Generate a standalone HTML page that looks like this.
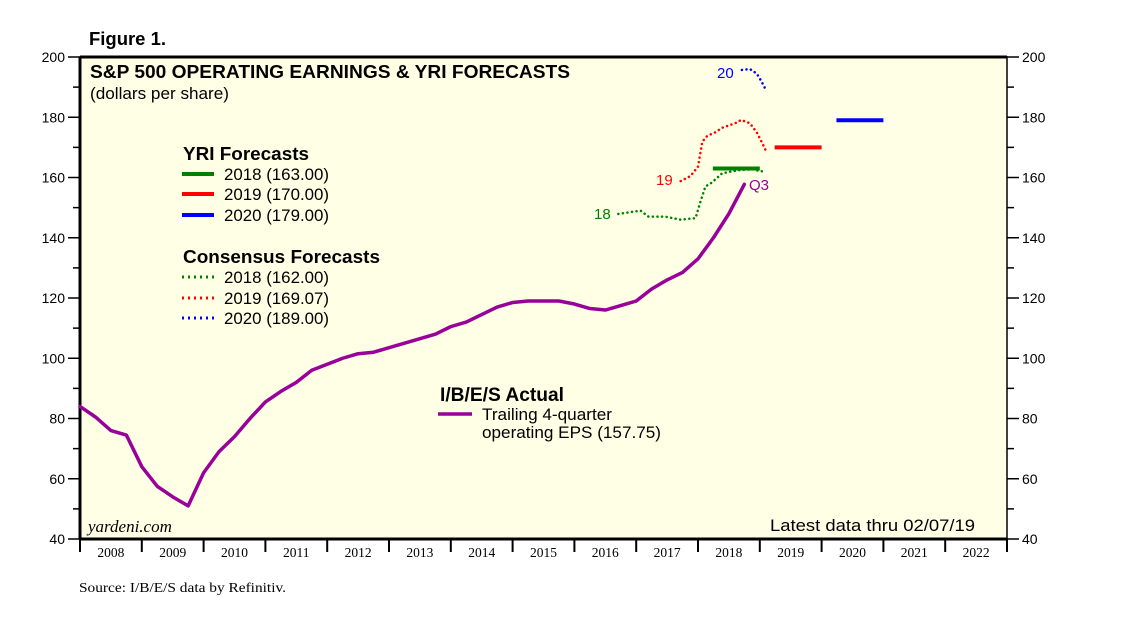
<!DOCTYPE html>
<html><head><meta charset="utf-8"><style>
body{margin:0;background:#fff;}
svg{display:block;font-family:"Liberation Sans",Arial,sans-serif;}
</style></head><body>
<svg id="chart" width="1138" height="621" viewBox="0 0 1138 621" xmlns="http://www.w3.org/2000/svg">
<rect width="1138" height="621" fill="#fff"/>
<text x="89" y="45" font-size="18" font-weight="bold" textLength="77" lengthAdjust="spacingAndGlyphs">Figure 1.</text>
<rect x="80" y="57" width="927" height="482" fill="#ffffe6" stroke="#000" stroke-width="1.5"/>
<line x1="80" y1="57" x2="1007" y2="57" stroke="#000" stroke-width="3"/>
<line x1="80" y1="57" x2="80" y2="539" stroke="#000" stroke-width="3"/>
<line x1="80" y1="539" x2="1007" y2="539" stroke="#000" stroke-width="3"/>
<text x="90" y="78" font-size="18.5" font-weight="bold" textLength="480" lengthAdjust="spacingAndGlyphs">S&amp;P 500 OPERATING EARNINGS &amp; YRI FORECASTS</text>
<text x="90" y="99" font-size="16.5" textLength="139" lengthAdjust="spacingAndGlyphs">(dollars per share)</text>
<g id="axes"></g>
<g id="marks"></g>
<g font-size="16.5">
<text x="183" y="160" font-size="18.5" font-weight="bold" textLength="126" lengthAdjust="spacingAndGlyphs">YRI Forecasts</text>
<line x1="182" y1="174" x2="214" y2="174" stroke="#008000" stroke-width="4"/><text x="224" y="180" textLength="105" lengthAdjust="spacingAndGlyphs">2018 (163.00)</text>
<line x1="182" y1="194" x2="214" y2="194" stroke="#ff0000" stroke-width="4"/><text x="224" y="200" textLength="105" lengthAdjust="spacingAndGlyphs">2019 (170.00)</text>
<line x1="182" y1="215" x2="214" y2="215" stroke="#0000ff" stroke-width="4"/><text x="224" y="221" textLength="105" lengthAdjust="spacingAndGlyphs">2020 (179.00)</text>
<text x="183" y="263" font-size="18.5" font-weight="bold" textLength="197" lengthAdjust="spacingAndGlyphs">Consensus Forecasts</text>
<line x1="182" y1="277" x2="214" y2="277" stroke="#008000" stroke-width="3" stroke-dasharray="2 4"/><text x="224" y="283" textLength="105" lengthAdjust="spacingAndGlyphs">2018 (162.00)</text>
<line x1="182" y1="298" x2="214" y2="298" stroke="#ff0000" stroke-width="3" stroke-dasharray="2 4"/><text x="224" y="304" textLength="105" lengthAdjust="spacingAndGlyphs">2019 (169.07)</text>
<line x1="182" y1="318" x2="214" y2="318" stroke="#0000ff" stroke-width="3" stroke-dasharray="2 4"/><text x="224" y="324" textLength="105" lengthAdjust="spacingAndGlyphs">2020 (189.00)</text>
<text x="440" y="401" font-size="19" font-weight="bold" textLength="124" lengthAdjust="spacingAndGlyphs">I/B/E/S Actual</text>
<line x1="438" y1="414" x2="472" y2="414" stroke="#990099" stroke-width="3.5"/>
<text x="482" y="420" textLength="130" lengthAdjust="spacingAndGlyphs">Trailing 4-quarter</text>
<text x="482" y="438" textLength="179" lengthAdjust="spacingAndGlyphs">operating EPS (157.75)</text>
</g>
<text x="594" y="219" font-size="15" fill="#008000">18</text>
<text x="656" y="185" font-size="15" fill="#ff0000">19</text>
<text x="717" y="78" font-size="15" fill="#0000ff">20</text>
<text x="749" y="190" font-size="15" fill="#990099">Q3</text>
<text x="88" y="532" font-size="17" font-style="italic" font-family="Liberation Serif,serif">yardeni.com</text>
<text x="770" y="531" font-size="16.5" textLength="205" lengthAdjust="spacingAndGlyphs">Latest data thru 02/07/19</text>
<text x="79" y="592" font-size="14" font-family="Liberation Serif,serif" textLength="207" lengthAdjust="spacingAndGlyphs">Source: I/B/E/S data by Refinitiv.</text>
</svg>
<script>
const yTicks=[40,60,80,100,120,140,160,180,200];
const years=[2008,2009,2010,2011,2012,2013,2014,2015,2016,2017,2018,2019,2020,2021,2022];
const actual=[84,80.5,76,74.5,64,57.5,54,51,62,69,74,80,85.5,89,92,96,98,100,101.5,102,103.5,105,106.5,108,110.5,112,114.5,117,118.5,119,119,119,118,116.5,116,117.5,119,123,126,128.5,133,140,148,157.75];
const c18Dates=[2016.71,2017.07,2017.2,2017.47,2017.72,2017.96,2018.04,2018.12,2018.23,2018.39,2018.68,2018.92,2019.0,2019.1];
const c18Vals=[147.9,149,147,147,146,146.5,152,157,158.4,161.4,162.5,162.7,162,162.2];
const c19Dates=[2017.72,2017.88,2018.0,2018.07,2018.15,2018.28,2018.39,2018.6,2018.7,2018.84,2018.95,2019.05,2019.1];
const c19Vals=[158.8,160.5,163.6,171.9,173.8,175,176.5,178,179.1,178,175,171,168.8];
const c20Dates=[2018.71,2018.84,2018.95,2019.03,2019.1];
const c20Vals=[195.7,196,194.5,191.8,189];
const yriYears=[2018,2019,2020];
const yriVals=[163,170,179];
const yriColors=['#008000','#ff0000','#0000ff'];
const X=t=>80+(t-2008)*61.8;
const Y=v=>539-(v-40)*(482/160);
const NS='http://www.w3.org/2000/svg';
const ax=document.getElementById('axes'),mk=document.getElementById('marks');
function mkEl(tag,attrs,parent){const e=document.createElementNS(NS,tag);for(const k in attrs)e.setAttribute(k,attrs[k]);parent.appendChild(e);return e;}
for(let v=40;v<=200;v+=10){
  const y=Y(v),major=v%20===0,len=major?12:7;
  mkEl('line',{x1:80-len,y1:y,x2:80,y2:y,stroke:'#000','stroke-width':1.5},ax);
  mkEl('line',{x1:1007,y1:y,x2:1007+len,y2:y,stroke:'#000','stroke-width':1.5},ax);
}
yTicks.forEach(v=>{
  const t=mkEl('text',{x:65,y:Y(v)+5,'text-anchor':'end','font-size':14},ax);t.textContent=v;
  
  
  const r=mkEl('text',{x:1022,y:Y(v)+5,'font-size':14},ax);r.textContent=v;
  
  
});
years.forEach(yr=>{
  mkEl('line',{x1:X(yr),y1:539,x2:X(yr),y2:552,stroke:'#000','stroke-width':2},ax);
  const t=mkEl('text',{x:X(yr+0.5),y:557,'text-anchor':'middle','font-size':13.5,'font-family':'Liberation Serif,serif'},ax);
  t.textContent=yr;
  
  
});
mkEl('line',{x1:X(2023),y1:539,x2:X(2023),y2:552,stroke:'#000','stroke-width':2},ax);
function poly(xs,vs,color,w,dash,name){
  const p=mkEl('polyline',{points:xs.map((x,i)=>X(x)+','+Y(vs[i])).join(' '),fill:'none',stroke:color,'stroke-width':w,'stroke-linejoin':'round','stroke-linecap':'round'},mk);
  if(dash)p.setAttribute('stroke-dasharray',dash);
  
  
}
poly(actual.map((v,i)=>2008+i*0.25),actual,'#990099',3.5,null,'actual-eps-line');
poly(c18Dates,c18Vals,'#008000',2.5,'0.1 4.5','consensus-2018-line');
poly(c19Dates,c19Vals,'#ff0000',2.5,'0.1 4.5','consensus-2019-line');
poly(c20Dates,c20Vals,'#0000ff',2.5,'0.1 4.5','consensus-2020-line');
yriYears.forEach((yr,i)=>{
  const l=mkEl('line',{x1:X(yr+0.24),y1:Y(yriVals[i]),x2:X(yr+1),y2:Y(yriVals[i]),stroke:yriColors[i],'stroke-width':4},mk);
  
  
});
</script>
</body></html>
